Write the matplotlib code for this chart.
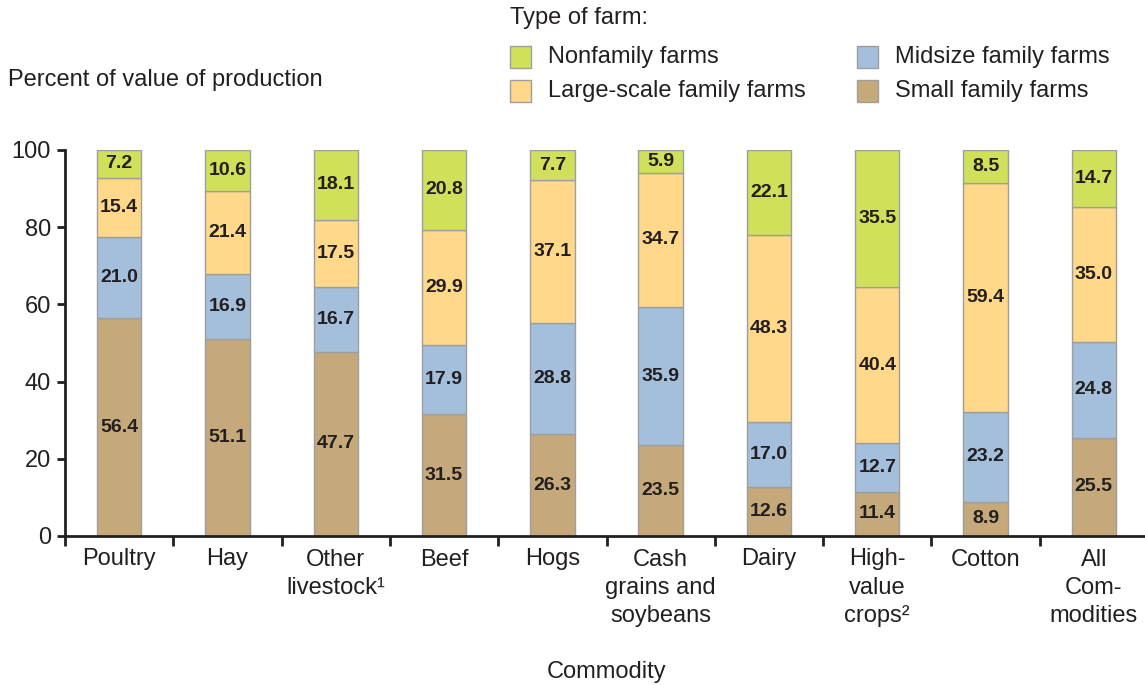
import matplotlib
matplotlib.use("Agg")
import matplotlib.pyplot as plt
from matplotlib.patches import Rectangle
import numpy as np

categories = ["Poultry", "Hay", "Other\nlivestock\u00b9", "Beef", "Hogs",
              "Cash\ngrains and\nsoybeans", "Dairy", "High-\nvalue\ncrops\u00b2",
              "Cotton", "All\nCom-\nmodities"]
small = [56.4, 51.1, 47.7, 31.5, 26.3, 23.5, 12.6, 11.4, 8.9, 25.5]
midsize = [21.0, 16.9, 16.7, 17.9, 28.8, 35.9, 17.0, 12.7, 23.2, 24.8]
large = [15.4, 21.4, 17.5, 29.9, 37.1, 34.7, 48.3, 40.4, 59.4, 35.0]
nonfamily = [7.2, 10.6, 18.1, 20.8, 7.7, 5.9, 22.1, 35.5, 8.5, 14.7]
series_names = ["Small family farms", "Midsize family farms",
                "Large-scale family farms", "Nonfamily farms"]
series_colors = ["#C6A97A", "#A3BFDB", "#FFD88A", "#D0E05A"]
yticks = [0, 20, 40, 60, 80, 100]

plt.rcParams['font.family'] = ['Liberation Sans', 'DejaVu Sans']
TXT = "#231F20"
W, H = 1145, 685
fig = plt.figure(figsize=(W / 100, H / 100), dpi=100)
ax = fig.add_axes([65 / W, (H - 536) / H, (1148 - 65) / W, (536 - 150) / H])

x = np.arange(len(categories))
bottom = np.zeros(len(categories))
for vals, color in zip([small, midsize, large, nonfamily], series_colors):
    vals = np.array(vals)
    ax.bar(x, vals, width=0.41, bottom=bottom, color=color,
           edgecolor="#9E9E9E", linewidth=1.0, zorder=2)
    for xi, b, v in zip(x, bottom, vals):
        ax.text(xi, b + v / 2, f"{v:.1f}", ha="center", va="center",
                fontsize=14, fontweight="bold", color=TXT,
                family=['Liberation Sans Narrow', 'Liberation Sans'])
    bottom = bottom + vals

ax.set_xlim(-0.5, 9.5)
ax.set_ylim(0, 100)
ax.set_yticks(yticks)
ax.set_yticklabels([str(t) for t in yticks], fontsize=17, color=TXT)
ax.set_xticks(np.arange(-0.5, 10, 1.0))
ax.set_xticklabels([])
ax.set_xticks(x, minor=True)
ax.set_xticklabels(categories, minor=True, fontsize=17, color=TXT,
                   linespacing=1.38, va="top")
ax.tick_params(axis="x", which="major", length=7, width=2, color=TXT)
ax.tick_params(axis="x", which="minor", length=0, pad=9)
ax.tick_params(axis="y", length=6, width=2, color=TXT, pad=4)
for s in ["top", "right"]:
    ax.spines[s].set_visible(False)
for s in ["left", "bottom"]:
    ax.spines[s].set_linewidth(2)
    ax.spines[s].set_color(TXT)

fig.text(8 / W, 1 - 80 / H, "Percent of value of production", fontsize=17,
         color=TXT, ha="left", va="center")
fig.text(607 / W, 1 - 672 / H, "Commodity", fontsize=17, color=TXT,
         ha="center", va="center")

# legend
fig.text(510 / W, 1 - 18 / H, "Type of farm:", fontsize=17, color=TXT,
         ha="left", va="center")
leg_items = [(3, 510, 57), (2, 510, 91), (1, 857, 57), (0, 857, 91)]
for idx, lx, ly in leg_items:
    fig.add_artist(Rectangle((lx / W, 1 - (ly + 11) / H), 21 / W, 22 / H,
                             transform=fig.transFigure,
                             facecolor=series_colors[idx], edgecolor="#9E9E9E",
                             linewidth=1.0))
    fig.text((lx + 38) / W, 1 - ly / H, series_names[idx], fontsize=17,
             color=TXT, ha="left", va="center")

fig.savefig("out.png", dpi=100)
